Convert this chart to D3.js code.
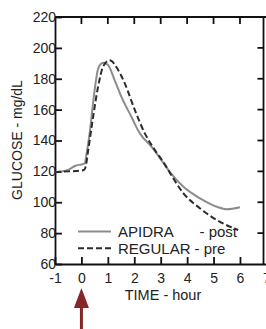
<!DOCTYPE html>
<html>
<head>
<meta charset="utf-8">
<script src="https://cdn.jsdelivr.net/npm/d3@7"></script>
<style>
  html, body { margin: 0; padding: 0; background: #fff; }
  svg { display: block; font-family: "Liberation Sans", Arial, sans-serif; }
</style>
</head>
<body>
<svg id="chart" width="266" height="329"></svg>
<script>
// ---- data ----
const xTicks = [-1, 0, 1, 2, 3, 4, 5, 6, 7];
const yTicks = [60, 80, 100, 120, 140, 160, 180, 200, 220];
const apidraT = [-1, -0.5, -0.25, 0, 0.12, 0.2, 0.31, 0.5, 0.63, 0.75, 0.82, 1.0, 1.26, 1.51, 1.89, 2.21, 2.65, 3.16, 3.35, 3.86, 4.49, 5.12, 5.5, 6.0];
const apidraV = [119.5, 121, 123.5, 124.5, 125, 132, 144.6, 172.7, 186.5, 189.8, 190.4, 189, 179, 168.4, 155.4, 144.6, 136, 124, 119.5, 110, 102.5, 97.1, 95.4, 96.7];
const regularT = [-1, -0.5, 0, 0.1, 0.16, 0.25, 0.44, 0.63, 0.82, 1.07, 1.39, 1.64, 2.02, 2.4, 2.78, 3.16, 3.35, 3.86, 4.49, 5.12, 5.93];
const regularV = [119.5, 120, 120.5, 121, 123, 133, 155, 174.8, 187.8, 192, 185.7, 177, 159.8, 144.6, 133.8, 124.5, 119, 105.8, 96, 88.5, 82];
const legendNames = ["APIDRA", "REGULAR"];
const legendTags = ["- post", "- pre"];
const xTitle = "TIME - hour";
const yTitle = "GLUCOSE - mg/dL";

// ---- layout ----
const svg = d3.select("#chart");
const x = d3.scaleLinear().domain([-1, 7]).range([55, 266.4]);
const y = d3.scaleLinear().domain([60, 220]).range([264, 17]);
const rightX = 263.5;
const axisColor = "#111";
const textColor = "#222";

// frame
svg.append("line").attr("x1", x(-1)).attr("x2", 266).attr("y1", y(220)).attr("y2", y(220))
  .attr("stroke", axisColor).attr("stroke-width", 1.8);
svg.append("line").attr("x1", rightX).attr("x2", rightX).attr("y1", y(220)).attr("y2", y(60))
  .attr("stroke", axisColor).attr("stroke-width", 1.8);

// bottom axis
const xAxis = d3.axisBottom(x).tickValues(xTicks).tickSizeInner(-7).tickSizeOuter(0).tickPadding(9)
  .tickFormat(d3.format("d"));
const gx = svg.append("g").attr("transform", `translate(0,${y(60)})`).call(xAxis);
gx.select(".domain").attr("stroke", axisColor).attr("stroke-width", 1.8);
gx.selectAll(".tick line").attr("stroke", axisColor).attr("stroke-width", 1.8);
gx.selectAll(".tick text").attr("font-size", 14).attr("fill", textColor)
  .attr("font-family", "Liberation Sans, Arial, sans-serif")
  .text(d => d < 0 ? "-" + Math.abs(d) : d);

// left axis
const yAxis = d3.axisLeft(y).tickValues(yTicks).tickSizeInner(-7).tickSizeOuter(0).tickPadding(-1);
const gy = svg.append("g").attr("transform", `translate(${x(-1)},0)`).call(yAxis);
gy.select(".domain").attr("stroke", axisColor).attr("stroke-width", 1.8);
gy.selectAll(".tick line").attr("stroke", axisColor).attr("stroke-width", 1.8);
gy.selectAll(".tick text").attr("font-size", 14).attr("fill", textColor)
  .attr("font-family", "Liberation Sans, Arial, sans-serif").attr("x", 1);

// top ticks (inward)
svg.append("g").selectAll("line").data(xTicks.filter(d => d > -1 && d < 7)).join("line")
  .attr("x1", d => x(d)).attr("x2", d => x(d)).attr("y1", y(220)).attr("y2", y(220) + 7)
  .attr("stroke", axisColor).attr("stroke-width", 1.8);
// right ticks (inward)
svg.append("g").selectAll("line").data(yTicks.filter(d => d > 60 && d < 220)).join("line")
  .attr("x1", rightX - 6).attr("x2", rightX).attr("y1", d => y(d)).attr("y2", d => y(d))
  .attr("stroke", axisColor).attr("stroke-width", 1.8);

// lines
const line = d3.line().x(d => x(d[0])).y(d => y(d[1])).curve(d3.curveMonotoneX);
svg.append("path").datum(d3.zip(apidraT, apidraV)).attr("d", line)
  .attr("fill", "none").attr("stroke", "#8c8c8c").attr("stroke-width", 2);
svg.append("path").datum(d3.zip(regularT, regularV)).attr("d", line)
  .attr("fill", "none").attr("stroke", "#2b2b2b").attr("stroke-width", 2)
  .attr("stroke-dasharray", "6,3");

// legend
const lg = svg.append("g");
const legY = [231.5, 248.3];
const legStyles = [{stroke: "#8c8c8c", dash: null}, {stroke: "#2b2b2b", dash: "6,3"}];
legendNames.forEach((name, i) => {
  lg.append("line").attr("x1", 78).attr("x2", 111).attr("y1", legY[i]).attr("y2", legY[i])
    .attr("stroke", legStyles[i].stroke).attr("stroke-width", 2)
    .attr("stroke-dasharray", legStyles[i].dash);
  lg.append("text").attr("x", 118).attr("y", legY[i] + 5.3).attr("font-size", 15)
    .attr("fill", textColor).text(name);
});
lg.append("text").attr("x", 199.5).attr("y", legY[0] + 5.3).attr("font-size", 15)
  .attr("fill", textColor).text(legendTags[0]);
lg.append("text").attr("x", 194.5).attr("y", legY[1] + 5.3).attr("font-size", 15)
  .attr("fill", textColor).text(legendTags[1]);

// axis titles
svg.append("text").attr("x", 163).attr("y", 299.5).attr("text-anchor", "middle")
  .attr("font-size", 14.5).attr("fill", textColor).text(xTitle);
svg.append("text").attr("transform", "translate(22,140) rotate(-90)").attr("text-anchor", "middle")
  .attr("font-size", 14).attr("fill", textColor).text(yTitle);

// arrow at time 0
const ax = x(0);
const arrowColor = "#862727";
svg.append("line").attr("x1", ax).attr("x2", ax).attr("y1", 305).attr("y2", 329)
  .attr("stroke", arrowColor).attr("stroke-width", 3);
svg.append("path").attr("d", `M${ax},288 L${ax - 7.5},308 L${ax + 7.5},308 Z`).attr("fill", arrowColor);
</script>
</body>
</html>
